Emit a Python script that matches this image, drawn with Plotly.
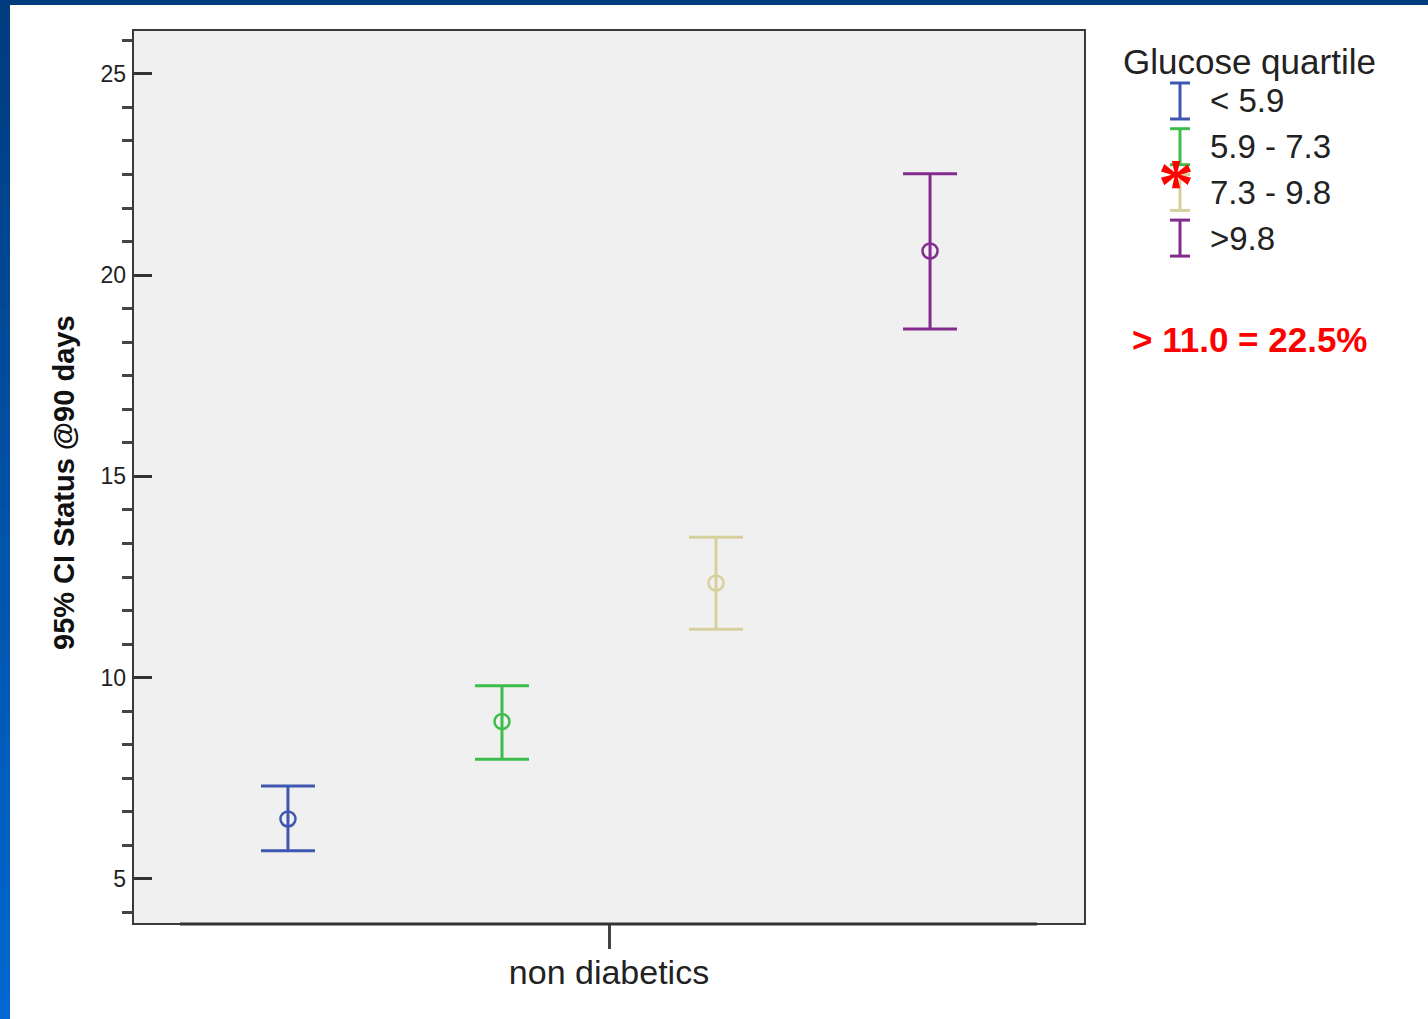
import plotly.graph_objects as go

# 95% CI of status at 90 days by glucose quartile (non diabetics)
group_label = "non diabetics"
quartiles = ["< 5.9", "5.9 - 7.3", "7.3 - 9.8", ">9.8"]
means = [6.49, 8.91, 12.35, 20.60]
ci_upper = [7.31, 9.80, 13.49, 22.52]
ci_lower = [5.70, 7.97, 11.20, 18.66]
colors = ["#3F57B0", "#3DBE4C", "#D6D09C", "#842C8E"]

y_ticks = [5, 10, 15, 20, 25]
legend_title = "Glucose quartile"
note_text = "> 11.0 = 22.5%"
y_title = "95% CI Status @90 days"

W, H = 1428, 1019
L, R, T, B = 133, 1085, 30, 924  # plot area in pixels
FONT = "Liberation Sans, Arial, Helvetica, sans-serif"
Y_RANGE = [3.88, 26.09]


def pxx(x):
    return (x - L) / (R - L)


def pxy(y):
    return (B - y) / (B - T)


fig = go.Figure()

n = len(quartiles)
for i, (q, m, up, lo, c) in enumerate(zip(quartiles, means, ci_upper, ci_lower, colors)):
    offset = i - (n - 1) / 2
    fig.add_trace(go.Scatter(
        x=[offset], y=[m], mode="markers", name=q, showlegend=False,
        marker=dict(symbol="circle-open", size=15, color=c, line=dict(width=2.5, color=c)),
        error_y=dict(type="data", symmetric=False, array=[up - m], arrayminus=[m - lo],
                     color=c, thickness=3, width=27),
        hoverinfo="y",
    ))

shapes = []

# slide frame: dark band on top and a blue gradient band on the left
shapes.append(dict(type="rect", xref="paper", yref="paper",
                   x0=pxx(0), x1=pxx(W), y0=pxy(0), y1=pxy(5),
                   fillcolor="#003C7E", line=dict(width=0), layer="below"))
bands = 40
c0 = (0x00, 0x3C, 0x7E)
c1 = (0x00, 0x68, 0xD0)
for k in range(bands):
    t = k / (bands - 1)
    col = "rgb(%d,%d,%d)" % tuple(round(a + (b - a) * t) for a, b in zip(c0, c1))
    y0 = k * H / bands
    y1 = (k + 1) * H / bands + 1
    shapes.append(dict(type="rect", xref="paper", yref="paper",
                       x0=pxx(0), x1=pxx(10), y0=pxy(y0), y1=pxy(y1),
                       fillcolor=col, line=dict(width=0), layer="below"))

# plot frame
shapes.append(dict(type="rect", xref="paper", yref="paper", x0=0, x1=1, y0=0, y1=1,
                   line=dict(color="#3A3A3A", width=2), fillcolor="rgba(0,0,0,0)"))
# darker x-axis baseline
shapes.append(dict(type="line", xref="paper", yref="paper",
                   x0=pxx(180), x1=pxx(1037), y0=0, y1=0,
                   line=dict(color="#333333", width=3)))

# legend icons (I-beams)
row0, row_step, half_h, half_w, icon_x = 101, 45.7, 18, 10, 1180
annotations = []
for i, (q, c) in enumerate(zip(quartiles, colors)):
    yc = row0 + i * row_step
    for (xa, ya, xb, yb) in [(icon_x, yc - half_h, icon_x, yc + half_h),
                             (icon_x - half_w, yc - half_h, icon_x + half_w, yc - half_h),
                             (icon_x - half_w, yc + half_h, icon_x + half_w, yc + half_h)]:
        shapes.append(dict(type="line", xref="paper", yref="paper",
                           x0=pxx(xa), x1=pxx(xb), y0=pxy(ya), y1=pxy(yb),
                           line=dict(color=c, width=3)))
    annotations.append(dict(xref="paper", yref="paper", x=pxx(1208), y=pxy(yc),
                            xanchor="left", yanchor="middle", showarrow=False,
                            text=q, font=dict(family=FONT, size=33, color="#222222")))

annotations.append(dict(xref="paper", yref="paper", x=pxx(1121), y=pxy(62),
                        xanchor="left", yanchor="middle", showarrow=False,
                        text=legend_title, font=dict(family=FONT, size=35, color="#222222")))

# red asterisk marking the 7.3 - 9.8 quartile
annotations.append(dict(xref="paper", yref="paper", x=pxx(1176), y=pxy(184),
                        xanchor="center", yanchor="middle", showarrow=False,
                        text="<b>*</b>", font=dict(family="Liberation Serif, Times New Roman, serif",
                                                  size=72, color="#FF0000")))

annotations.append(dict(xref="paper", yref="paper", x=pxx(1249), y=pxy(339),
                        xanchor="center", yanchor="middle", showarrow=False,
                        text="<b>%s</b>" % note_text,
                        font=dict(family=FONT, size=35, color="#FF0000")))

# y-axis title
annotations.append(dict(xref="paper", yref="paper", x=pxx(64), y=pxy(483),
                        xanchor="center", yanchor="middle", showarrow=False, textangle=-90,
                        text="<b>%s</b>" % y_title,
                        font=dict(family=FONT, size=29, color="#111111")))

# minor ticks every 5/6 of a unit, skipping the labelled majors
step = 5 / 6
minor_vals = [k * step for k in range(int(Y_RANGE[0] / step) + 1, int(Y_RANGE[1] / step) + 1)
              if k % 6 != 0]

fig.update_layout(
    width=W, height=H,
    margin=dict(l=L, r=W - R, t=T, b=H - B, pad=0),
    paper_bgcolor="white",
    plot_bgcolor="#F0F0F0",
    showlegend=False,
    shapes=shapes,
    annotations=annotations,
    xaxis=dict(
        range=[-(n / 2 + 0.224), n / 2 + 0.224],
        tickvals=[0], ticktext=[group_label],
        ticks="outside", ticklen=24, tickwidth=3, tickcolor="#444444",
        tickfont=dict(family=FONT, size=34, color="#222222"),
        ticklabelstandoff=-6,
        showgrid=False, zeroline=False, showline=False, fixedrange=True,
    ),
    yaxis=dict(
        range=Y_RANGE,
        tickvals=y_ticks,
        ticks="inside", ticklen=19, tickwidth=3, tickcolor="#333333",
        tickfont=dict(family=FONT, size=23, color="#222222"),
        ticklabelstandoff=6,
        minor=dict(tickmode="array", tickvals=minor_vals, ticks="outside", ticklen=10,
                   tickwidth=3, tickcolor="#444444", showgrid=False),
        showgrid=False, zeroline=False, showline=False, fixedrange=True,
    ),
)

fig.write_html("out.html")
